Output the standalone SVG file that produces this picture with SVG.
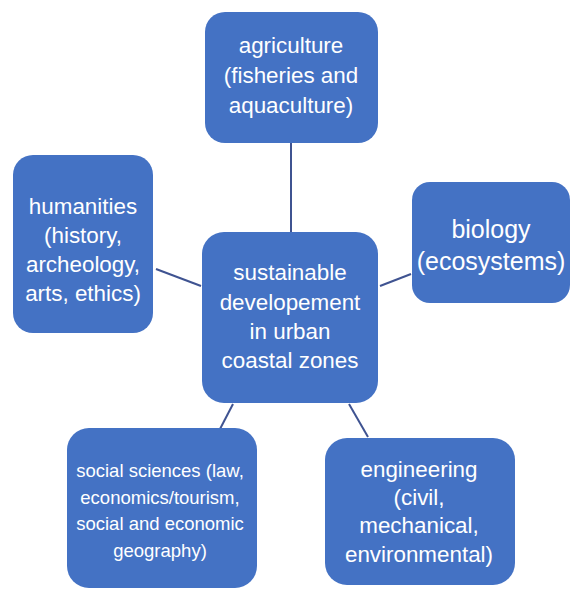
<svg xmlns="http://www.w3.org/2000/svg" width="572" height="589" viewBox="0 0 572 589">
<style>
.box{fill:#4472C4;stroke:none}
.t{font-family:"Liberation Sans",Arial,sans-serif;font-size:22.4px;fill:#ffffff;text-anchor:middle}
.s{font-size:18.5px}
.b{font-size:25px}
.c{stroke:#3F5391;stroke-width:2;fill:none}
</style>
<rect width="572" height="589" fill="#ffffff"/>
<g id="connectors">
<line class="c" x1="291" y1="143" x2="291" y2="232"/>
<line class="c" x1="156" y1="269" x2="201" y2="286"/>
<line class="c" x1="380" y1="286" x2="411" y2="274"/>
<line class="c" x1="233" y1="404" x2="220" y2="429"/>
<line class="c" x1="349" y1="404" x2="368" y2="437"/>
</g>
<g id="agriculture">
<rect class="box" x="205" y="12" width="173" height="131" rx="20"/>
<text class="t" x="291" y="53">agriculture</text>
<text class="t" x="291" y="83">(fisheries and</text>
<text class="t" x="291" y="113">aquaculture)</text>
</g>
<g id="humanities">
<rect class="box" x="13" y="155" width="140" height="178" rx="20"/>
<text class="t" x="83" y="214">humanities</text>
<text class="t" x="83" y="243">(history,</text>
<text class="t" x="83" y="272">archeology,</text>
<text class="t" x="83" y="301">arts, ethics)</text>
</g>
<g id="center">
<rect class="box" x="202" y="232" width="176" height="171" rx="22"/>
<text class="t" x="290" y="280">sustainable</text>
<text class="t" x="290" y="310">developement</text>
<text class="t" x="290" y="339">in urban</text>
<text class="t" x="290" y="368">coastal zones</text>
</g>
<g id="biology">
<rect class="box" x="412" y="182" width="158" height="121" rx="18"/>
<text class="t b" x="491" y="238">biology</text>
<text class="t b" x="491" y="270">(ecosystems)</text>
</g>
<g id="social">
<rect class="box" x="67" y="428" width="190" height="160" rx="22"/>
<text class="t s" x="160" y="477">social sciences (law,</text>
<text class="t s" x="160" y="503.5">economics/tourism,</text>
<text class="t s" x="160" y="530">social and economic</text>
<text class="t s" x="160" y="556.5">geography)</text>
</g>
<g id="engineering">
<rect class="box" x="325" y="438" width="190" height="147" rx="22"/>
<text class="t" x="419" y="477">engineering</text>
<text class="t" x="419" y="505">(civil,</text>
<text class="t" x="419" y="533">mechanical,</text>
<text class="t" x="419" y="562">environmental)</text>
</g>
</svg>
